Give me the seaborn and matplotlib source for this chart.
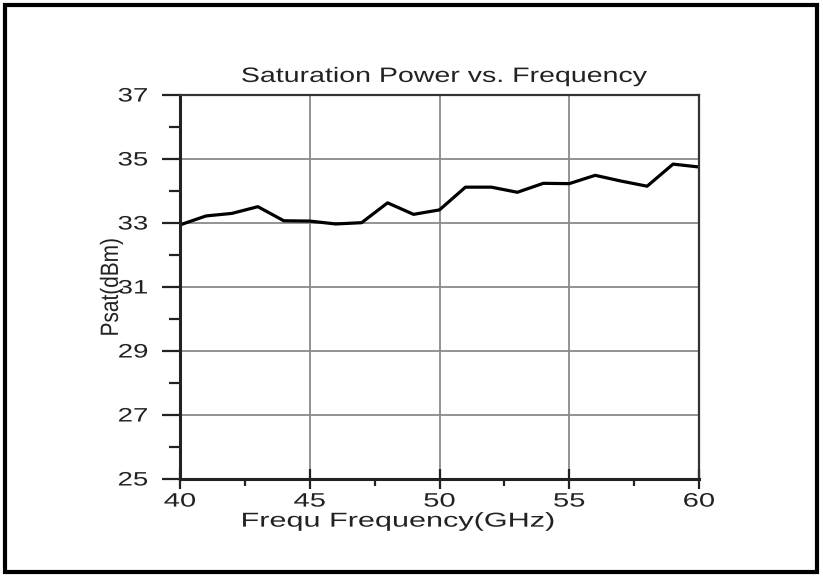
import matplotlib
matplotlib.use("Agg")
import matplotlib.pyplot as plt
import seaborn as sns
import pandas as pd
from matplotlib.ticker import MultipleLocator
from matplotlib.patches import Rectangle
from matplotlib.patheffects import AbstractPathEffect
from matplotlib.transforms import Affine2D

# Valores
freq_ghz = [40, 41, 42, 43, 44, 45, 46, 47, 48, 49, 50,
            51, 52, 53, 54, 55, 56, 57, 58, 59, 60]
psat_dbm = [32.94, 33.22, 33.30, 33.51, 33.07, 33.06, 32.97, 33.01, 33.63, 33.27, 33.41,
            34.12, 34.12, 33.96, 34.24, 34.23, 34.49, 34.31, 34.15, 34.84, 34.75]
x_ticks = [40, 45, 50, 55, 60]
y_ticks = [25, 27, 29, 31, 33, 35, 37]


class HStretch(AbstractPathEffect):
    """Estica o texto na horizontal (a imagem original tem letras mais largas)."""

    def __init__(self, sx, anchor="center"):
        super().__init__()
        self.sx = sx
        self.anchor = anchor

    def draw_path(self, renderer, gc, tpath, affine, rgbFace=None):
        bb = tpath.get_extents(affine)
        if self.anchor == "right":
            x0 = bb.x1
        elif self.anchor == "left":
            x0 = bb.x0
        else:
            x0 = (bb.x0 + bb.x1) / 2
        stretch = Affine2D().translate(-x0, 0).scale(self.sx, 1).translate(x0, 0)
        renderer.draw_path(gc, tpath, affine + stretch, rgbFace)


df = pd.DataFrame({"Frequency": freq_ghz, "Psat": psat_dbm})

sns.set_theme(style="white")
plt.rcParams['font.family'] = ['Liberation Sans', 'DejaVu Sans']

fig = plt.figure(figsize=(8.23, 5.77), dpi=100)
ax = fig.add_axes([180 / 823, 1 - 479 / 577, (699 - 180) / 823, (479 - 95) / 577])

sns.lineplot(data=df, x="Frequency", y="Psat", ax=ax, color="black", linewidth=2.3)

ax.set_xlim(40, 60)
ax.set_ylim(25, 37)
ax.set_xticks(x_ticks)
ax.set_yticks(y_ticks)
ax.xaxis.set_minor_locator(MultipleLocator(2.5))
ax.yaxis.set_minor_locator(MultipleLocator(1))
ax.grid(True, which="major", color="#8a8a8a", linewidth=1.3)

ax.tick_params(axis="both", which="both", colors="#222222", labelsize=14,
               bottom=True, left=True, width=1.6)
ax.tick_params(axis="x", which="major", direction="inout", length=15, pad=3)
ax.tick_params(axis="x", which="minor", direction="out", length=5)
ax.tick_params(axis="y", which="major", direction="out", length=13, pad=10)
ax.tick_params(axis="y", which="minor", direction="out", length=8)

for lbl in ax.get_xticklabels():
    lbl.set_path_effects([HStretch(1.5, "center")])
for lbl in ax.get_yticklabels():
    lbl.set_path_effects([HStretch(1.42, "right")])

for side in ["left", "bottom"]:
    ax.spines[side].set_linewidth(2.2)
    ax.spines[side].set_color("#222222")
for side in ["top", "right"]:
    ax.spines[side].set_linewidth(1.6)
    ax.spines[side].set_color("#333333")

title = ax.text(0.51, 1.034, "Saturation Power vs. Frequency", transform=ax.transAxes,
                ha="center", va="baseline", fontsize=15, color="#222222")
title.set_path_effects([HStretch(1.37, "center")])

ax.set_xlabel("Frequ Frequency(GHz)", fontsize=14.5, color="#222222")
ax.xaxis.set_label_coords(0.42, -0.085)
ax.xaxis.label.set_path_effects([HStretch(1.52, "center")])

ax.set_ylabel("Psat(dBm)", fontsize=15, color="#222222")
ax.yaxis.set_label_coords(-0.114, 0.5)
ax.yaxis.label.set_path_effects([HStretch(1.2, "center")])

# moldura externa da imagem
fig.patches.append(Rectangle((5 / 823, 5 / 577), 812 / 823, 567 / 577, transform=fig.transFigure,
                             fill=False, edgecolor="black", linewidth=3))

fig.savefig("out.png", dpi=100, facecolor="white")
plt.close(fig)
